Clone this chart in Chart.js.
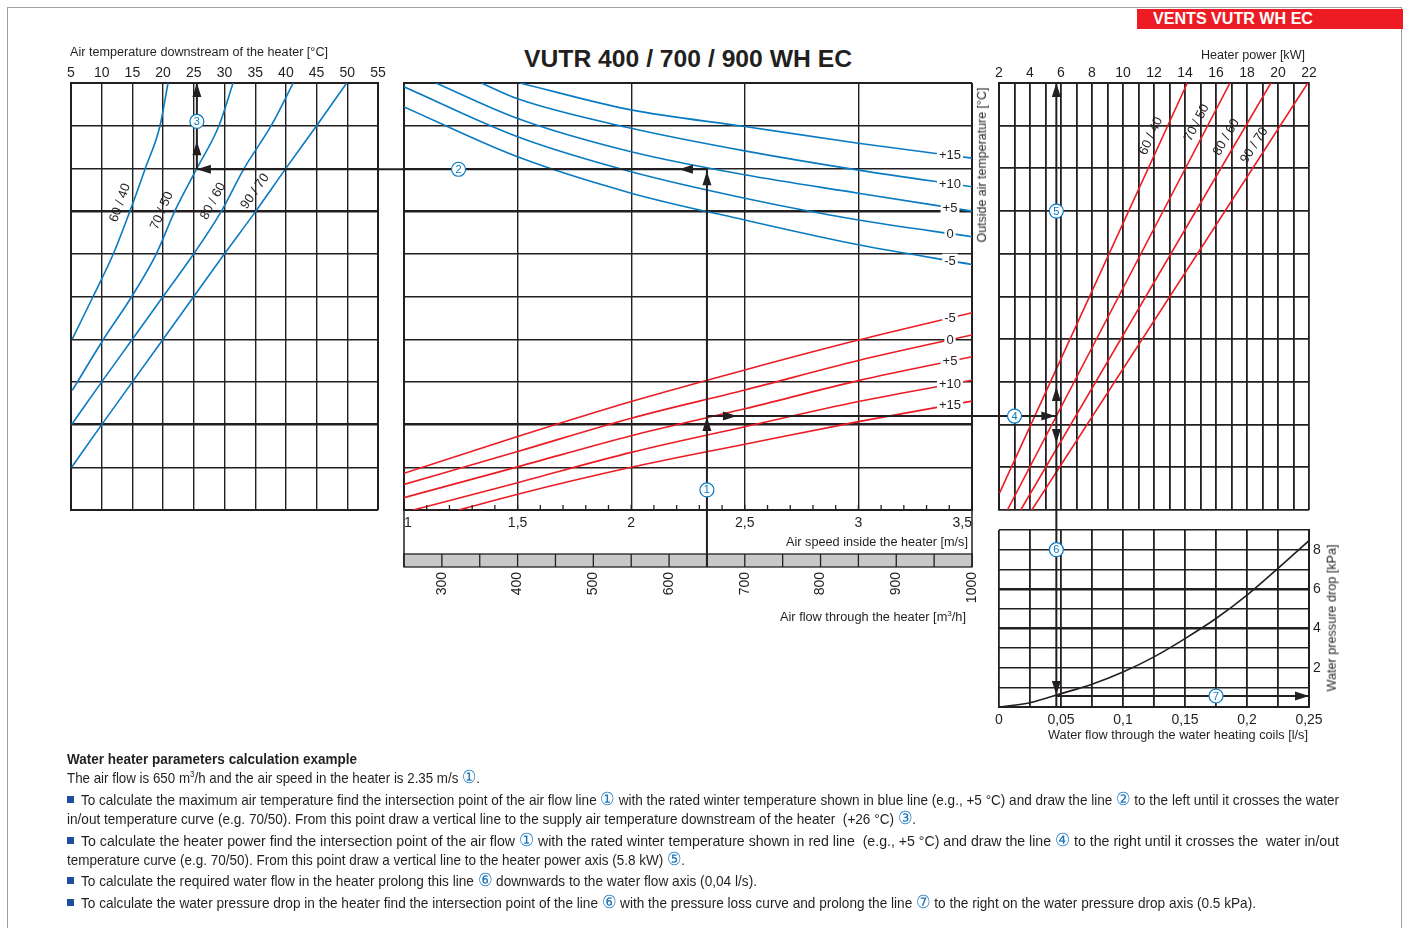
<!DOCTYPE html>
<html>
<head>
<meta charset="utf-8">
<title>VUTR 400 / 700 / 900 WH EC</title>
<script src="https://cdn.jsdelivr.net/npm/chart.js@4.4.1/dist/chart.umd.min.js"></script>
<style>
  body { margin: 0; background: #fff; }
  #page { position: relative; width: 1407px; height: 928px; overflow: hidden; font-family: "Liberation Sans", Arial, sans-serif; color: #231f20; }
  #page canvas { position: absolute; left: 0; top: 0; }
  #frame { position: absolute; left: 7px; top: 7px; width: 1393px; height: 940px; border: 1px solid #a0a0a0; }
  #tag { position: absolute; left: 1137px; top: 9px; width: 266px; height: 20px; background: #ed1c24; }
  .t { position: absolute; white-space: nowrap; line-height: 16px; transform-origin: 0 50%; }
  .ln { position: absolute; white-space: nowrap; font-family: "Liberation Sans Narrow", "Liberation Sans", Arial, sans-serif; font-size: 15px; line-height: 18px; transform-origin: 0 50%; }
  .ln sup { font-size: 9px; line-height: 0; }
  .c { color: #1b75bc; font-size: 18px; line-height: 0; }
  .sq { position: absolute; left: 67px; width: 7px; height: 7px; background: #1f4e9c; }
</style>
</head>
<body>
<div id="page">
  <div id="frame"></div>
  <div id="tag"></div>
  <div class="t fit" data-w="160" style="left:1153px;top:11px;color:#fff;font-weight:bold;font-size:16px;">VENTS VUTR WH EC</div>
  <div class="t fit" data-w="328" style="left:524px;top:47px;font-weight:bold;font-size:24px;line-height:24px;">VUTR 400 / 700 / 900 WH EC</div>

  <canvas id="cLeft" width="1407" height="928"></canvas>
  <canvas id="cMid" width="1407" height="928"></canvas>
  <canvas id="cPower" width="1407" height="928"></canvas>
  <canvas id="cDrop" width="1407" height="928"></canvas>

  <div class="t fit" data-w="258" style="left:70px;top:44px;font-size:12.5px;">Air temperature downstream of the heater [°C]</div>
  <div class="t fit" data-w="104" style="left:1201px;top:47px;font-size:12.5px;">Heater power [kW]</div>
  <div class="t fit" data-w="182" style="left:786px;top:534px;font-size:12.5px;">Air speed inside the heater [m/s]</div>
  <div class="t fit" data-w="186" style="left:780px;top:609px;font-size:12.5px;">Air flow through the heater [m<sup style="font-size:8px;line-height:0">3</sup>/h]</div>
  <div class="t fit" data-w="260" style="left:1048px;top:727px;font-size:12.5px;">Water flow through the water heating coils [l/s]</div>
  <div class="t rot" data-w="155" data-cx="982" data-cy="165" style="font-size:12.5px;background:#fff;">Outside air temperature [°C]</div>
  <div class="t rot" data-w="147" data-cx="1332" data-cy="618" style="font-size:12.5px;">Water pressure drop [kPa]</div>

  <div class="ln fit" data-w="290" style="left:67px;top:750px;font-weight:bold;">Water heater parameters calculation example</div>
  <div class="ln fit" data-w="413" style="left:67px;top:769px;">The air flow is 650 m<sup>3</sup>/h and the air speed in the heater is 2.35 m/s <span class="c">①</span>.</div>
  <div class="sq" style="top:796px;"></div>
  <div class="ln fit" data-w="1258" style="left:81px;top:791px;">To calculate the maximum air temperature find the intersection point of the air flow line <span class="c">①</span> with the rated winter temperature shown in blue line (e.g., +5 °C) and draw the line <span class="c">②</span> to the left until it crosses the water</div>
  <div class="ln fit" data-w="849" style="left:67px;top:810px;">in/out temperature curve (e.g. 70/50). From this point draw a vertical line to the supply air temperature downstream of the heater&nbsp; (+26 °C) <span class="c">③</span>.</div>
  <div class="sq" style="top:837px;"></div>
  <div class="ln fit" data-w="1258" style="left:81px;top:832px;">To calculate the heater power find the intersection point of the air flow <span class="c">①</span> with the rated winter temperature shown in red line&nbsp; (e.g., +5 °C) and draw the line <span class="c">④</span> to the right until it crosses the&nbsp; water in/out</div>
  <div class="ln fit" data-w="618" style="left:67px;top:851px;">temperature curve (e.g. 70/50). From this point draw a vertical line to the heater power axis (5.8 kW) <span class="c">⑤</span>.</div>
  <div class="sq" style="top:877px;"></div>
  <div class="ln fit" data-w="676" style="left:81px;top:872px;">To calculate the required water flow in the heater prolong this line <span class="c">⑥</span> downwards to the water flow axis (0,04 l/s).</div>
  <div class="sq" style="top:899px;"></div>
  <div class="ln fit" data-w="1175" style="left:81px;top:894px;">To calculate the water pressure drop in the heater find the intersection point of the line <span class="c">⑥</span> with the pressure loss curve and prolong the line <span class="c">⑦</span> to the right on the water pressure drop axis (0.5 kPa).</div>
</div>

<script>
// ---- left panel: air temperature downstream of the heater ----
const tempTicks = [5, 10, 15, 20, 25, 30, 35, 40, 45, 50, 55];
const levelTicks = [0, 1, 2, 3, 4, 5, 6, 7, 8, 9, 10];
const waterCurves = ['60 / 40', '70 / 50', '80 / 60', '90 / 70'];

const t6040 = [20.8, 19.5, 17.1, 14.6, 11.9, 8.6, 5.2];
const l6040 = [10, 9, 8, 7, 6, 5, 4];
const t7050 = [31.4, 29.1, 25.5, 21.9, 18.9, 14.9, 10.3, 5.2];
const l7050 = [10, 9, 8, 7, 6, 5, 4, 2.8];
const t8060 = [41.2, 37.6, 33.2, 29.5, 25.0, 20.0, 15.0, 10.0, 5.1];
const l8060 = [10, 9, 8, 7, 6, 5, 4, 3, 2];
const t9070 = [49.9, 45.0, 40.0, 35.1, 30.0, 25.0, 20.0, 15.0, 10.0, 5.1];
const l9070 = [10, 9, 8, 7, 6, 5, 4, 3, 2, 1];

// ---- middle panel: air speed / air flow ----
const speedTicks = [1, 1.5, 2, 2.5, 3, 3.5];
const airflowTicks = [300, 400, 500, 600, 700, 800, 900, 1000];
const airflowCells = [250, 300, 350, 400, 450, 500, 550, 600, 650, 700, 750, 800, 850, 900, 950, 1000];
const outsideTemps = ['+15', '+10', '+5', '0', '-5'];

// blue: outside air temperature curves
const sBlueP15 = [1.51, 2, 2.5, 3, 3.5];
const lBlueP15 = [10, 9.37, 8.98, 8.59, 8.24];
const sBlueP10 = [1.34, 1.5, 2, 2.5, 3, 3.5];
const lBlueP10 = [10, 9.63, 8.94, 8.41, 7.96, 7.57];
const sBlueP5 = [1.14, 1.5, 2, 2.5, 3, 3.5];
const lBlueP5 = [10, 9.17, 8.39, 7.85, 7.42, 7.0];
const sBlue0 = [1, 1.5, 2, 2.5, 3, 3.5];
const lBlue0 = [9.91, 8.74, 7.92, 7.30, 6.79, 6.40];
const sBlueM5 = [1, 1.5, 2, 2.5, 3, 3.5];
const lBlueM5 = [9.44, 8.27, 7.42, 6.79, 6.21, 5.75];

// red: outside air temperature lines for heater power
const sRedM5 = [1, 1.5, 2, 2.5, 3, 3.5];
const lRedM5 = [0.86, 1.72, 2.54, 3.28, 3.98, 4.62];
const sRed0 = [1, 1.5, 2, 2.5, 3, 3.5];
const lRed0 = [0.60, 1.37, 2.15, 2.81, 3.50, 4.10];
const sRedP5 = [1, 1.5, 2, 2.5, 3, 3.5];
const lRedP5 = [0.29, 1.01, 1.74, 2.37, 3.03, 3.59];
const sRedP10 = [1.04, 1.5, 2, 2.5, 3, 3.5];
const lRedP10 = [0, 0.64, 1.35, 1.95, 2.54, 3.04];
const sRedP15 = [1.24, 1.5, 2, 2.5, 3, 3.5];
const lRedP15 = [0, 0.37, 1.00, 1.54, 2.07, 2.55];

// ---- right top panel: heater power [kW] ----
const powerTicks = [2, 3, 4, 5, 6, 7, 8, 9, 10, 11, 12, 13, 14, 15, 16, 17, 18, 19, 20, 21, 22];
const kw6040 = [2.04, 14.15];
const lv6040 = [0.4, 10];
const kw7050 = [2.54, 16.9];
const lv7050 = [0, 10];
const kw8060 = [3.4, 19.54];
const lv8060 = [0, 10];
const kw9070 = [4.12, 21.92];
const lv9070 = [0, 10];

// ---- right bottom panel: water pressure drop ----
const flowTicks = [0, 0.025, 0.05, 0.075, 0.1, 0.125, 0.15, 0.175, 0.2, 0.225, 0.25];
const dropTicks = [0, 1, 2, 3, 4, 5, 6, 7, 8, 9];
const flowValues = [0, 0.025, 0.05, 0.075, 0.1, 0.125, 0.15, 0.175, 0.2, 0.225, 0.25];
const dropValues = [0, 0.22, 0.68, 1.16, 1.78, 2.55, 3.48, 4.50, 5.69, 7.05, 8.46];

// ---- worked example (guide lines 1..7) ----
const exampleAirflow = 650;
const exampleBlueLevel = 7.98;
const exampleRedLevel = 2.2;
const exampleOutletTemp = 25.5;
const examplePower = 5.7;
const exampleDrop = 0.56;

const INK = '#231f20';
const BLUE = '#0a7bc2';
const RED = '#ec1c24';
const FONT = '"Liberation Sans", Arial, sans-serif';

Chart.defaults.font.family = FONT;
Chart.defaults.color = INK;

function pts(xs, ys) {
    return xs.map((x, i) => ({ x: x, y: ys[i] }));
}

function curve(xs, ys, color, smooth) {
    return {
        data: pts(xs, ys),
        borderColor: color,
        borderWidth: 1.6,
        showLine: true,
        pointRadius: 0,
        cubicInterpolationMode: smooth ? 'monotone' : 'default',
        tension: 0
    };
}

function gridLines(thick, edges) {
    return {
        color: INK,
        drawTicks: false,
        lineWidth: c => {
            const v = c.tick ? c.tick.value : null;
            if (thick.includes(v)) return 2.6;
            if (edges.includes(v)) return 2;
            return 1.4;
        }
    };
}

function fixedTicks(list) {
    return axis => { axis.ticks = list.map(v => ({ value: v })); };
}

const baseOptions = {
    responsive: false,
    animation: false,
    devicePixelRatio: 1,
    events: [],
    plugins: { legend: { display: false }, tooltip: { enabled: false } }
};

// label drawn along a curve, rotated to its slope
function labelAlong(chart, xs, ys, level, text, gap) {
    const ctx = chart.ctx, sx = chart.scales.x, sy = chart.scales.y;
    let i = 0;
    while (i < ys.length - 2 && (ys[i] - level) * (ys[i + 1] - level) > 0) i++;
    const t = (level - ys[i]) / (ys[i + 1] - ys[i]);
    const x0 = sx.getPixelForValue(xs[i]), y0 = sy.getPixelForValue(ys[i]);
    const x1 = sx.getPixelForValue(xs[i + 1]), y1 = sy.getPixelForValue(ys[i + 1]);
    let ang = Math.atan2(y1 - y0, x1 - x0);
    if (Math.cos(ang) < 0) ang += Math.PI;
    ctx.save();
    ctx.translate(x0 + (x1 - x0) * t, y0 + (y1 - y0) * t);
    ctx.rotate(ang);
    ctx.font = '13px ' + FONT;
    ctx.fillStyle = INK;
    ctx.textAlign = 'center';
    ctx.textBaseline = 'middle';
    ctx.fillText(text, 0, -gap);
    ctx.restore();
}

// label sitting on the right end of a curve, on a white patch
function labelAtEnd(chart, xs, ys, text) {
    const ctx = chart.ctx, sx = chart.scales.x, sy = chart.scales.y;
    const n = xs.length;
    const x0 = sx.getPixelForValue(xs[n - 2]), y0 = sy.getPixelForValue(ys[n - 2]);
    const x1 = sx.getPixelForValue(xs[n - 1]), y1 = sy.getPixelForValue(ys[n - 1]);
    const px = chart.chartArea.right - 22;
    const py = y0 + (y1 - y0) * (px - x0) / (x1 - x0);
    ctx.save();
    ctx.font = '13px ' + FONT;
    const w = ctx.measureText(text).width + 4;
    ctx.fillStyle = '#fff';
    ctx.fillRect(px - w / 2, py - 7, w, 14);
    ctx.fillStyle = INK;
    ctx.textAlign = 'center';
    ctx.textBaseline = 'middle';
    ctx.fillText(text, px, py + 0.5);
    ctx.restore();
}

// ---------------- left chart ----------------
const leftSeries = [[t6040, l6040], [t7050, l7050], [t8060, l8060], [t9070, l9070]];
const leftLabelLevels = [7.1, 6.9, 7.1, 7.3];

const leftChart = new Chart(document.getElementById('cLeft'), {
    type: 'scatter',
    data: { datasets: leftSeries.map(s => curve(s[0], s[1], BLUE, true)) },
    options: Object.assign({}, baseOptions, {
        layout: { padding: { left: 71, top: 63, right: 1029, bottom: 418 } },
        scales: {
            x: {
                type: 'linear', position: 'top', min: 5, max: 55,
                afterBuildTicks: fixedTicks(tempTicks),
                ticks: { autoSkip: false, maxRotation: 0, padding: 1, font: { size: 14 } },
                grid: gridLines([], [5, 55]),
                border: { color: INK, width: 2 },
                afterFit: s => { s.height = 20; }
            },
            y: {
                min: 0, max: 10,
                afterBuildTicks: fixedTicks(levelTicks),
                ticks: { display: false },
                grid: gridLines([2, 7], [0, 10]),
                border: { color: INK, width: 2 },
                afterFit: s => { s.width = 0; }
            }
        }
    }),
    plugins: [{
        id: 'leftLabels',
        afterDatasetsDraw(chart) {
            leftSeries.forEach((s, i) => labelAlong(chart, s[0], s[1], leftLabelLevels[i], waterCurves[i], 12));
        }
    }]
});

// ---------------- middle chart ----------------
const blueSeries = [[sBlueP15, lBlueP15], [sBlueP10, lBlueP10], [sBlueP5, lBlueP5], [sBlue0, lBlue0], [sBlueM5, lBlueM5]];
const redSeries = [[sRedP15, lRedP15], [sRedP10, lRedP10], [sRedP5, lRedP5], [sRed0, lRed0], [sRedM5, lRedM5]];

const midChart = new Chart(document.getElementById('cMid'), {
    type: 'scatter',
    data: {
        datasets: blueSeries.map(s => curve(s[0], s[1], BLUE, true))
            .concat(redSeries.map(s => curve(s[0], s[1], RED, true)))
    },
    options: Object.assign({}, baseOptions, {
        layout: { padding: { left: 404, top: 83, right: 435, bottom: 316 } },
        scales: {
            x: {
                type: 'linear', position: 'bottom', min: 1, max: 3.5, weight: 0,
                afterBuildTicks: fixedTicks(speedTicks),
                ticks: {
                    autoSkip: false, maxRotation: 0, align: 'inner', padding: 5, font: { size: 14 },
                    callback: v => String(v).replace('.', ',')
                },
                grid: gridLines([], [1, 3.5]),
                border: { color: INK, width: 2 },
                afterFit: s => { s.height = 57; }
            },
            x2: {
                type: 'linear', position: 'bottom', min: 250, max: 1000, weight: 1,
                afterBuildTicks: fixedTicks(airflowTicks),
                ticks: {
                    autoSkip: false, minRotation: 90, maxRotation: 90, padding: -3, font: { size: 14 },
                    callback: v => String(v)
                },
                grid: { display: false },
                border: { display: false },
                afterFit: s => { s.height = 45; }
            },
            y: {
                min: 0, max: 10,
                afterBuildTicks: fixedTicks(levelTicks),
                ticks: { display: false },
                grid: gridLines([2, 7], [0, 10]),
                border: { color: INK, width: 2 },
                afterFit: s => { s.width = 0; }
            }
        }
    }),
    plugins: [{
        id: 'midExtras',
        afterDatasetsDraw(chart) {
            const ctx = chart.ctx, a = chart.chartArea, sx = chart.scales.x, sq = chart.scales.x2;
            const boxBottom = sx.bottom;
            ctx.save();
            // small speed ticks every 0.1 m/s
            ctx.strokeStyle = INK;
            ctx.lineWidth = 1.3;
            for (let i = 0; i <= 25; i++) {
                const px = sx.getPixelForValue(1 + i / 10);
                ctx.beginPath();
                ctx.moveTo(px, a.bottom);
                ctx.lineTo(px, a.bottom - 5);
                ctx.stroke();
            }
            // label box and the grey air-flow strip
            ctx.lineWidth = 1.5;
            ctx.beginPath();
            ctx.moveTo(a.left, a.bottom); ctx.lineTo(a.left, boxBottom);
            ctx.moveTo(a.right, a.bottom); ctx.lineTo(a.right, boxBottom);
            ctx.stroke();
            const stripTop = boxBottom - 13;
            ctx.fillStyle = '#c8c8c8';
            ctx.fillRect(a.left, stripTop, a.right - a.left, boxBottom - stripTop);
            ctx.strokeStyle = INK;
            ctx.lineWidth = 1.3;
            ctx.strokeRect(a.left, stripTop, a.right - a.left, boxBottom - stripTop);
            airflowCells.forEach(v => {
                const px = sq.getPixelForValue(v);
                ctx.beginPath();
                ctx.moveTo(px, stripTop);
                ctx.lineTo(px, boxBottom);
                ctx.stroke();
            });
            ctx.restore();
            blueSeries.forEach((s, i) => labelAtEnd(chart, s[0], s[1], outsideTemps[i]));
            redSeries.forEach((s, i) => labelAtEnd(chart, s[0], s[1], outsideTemps[i]));
        }
    }]
});

// ---------------- heater power chart ----------------
const powerSeries = [[kw6040, lv6040], [kw7050, lv7050], [kw8060, lv8060], [kw9070, lv9070]];
const powerLabelLevels = [8.65, 8.95, 8.6, 8.4];

const powerChart = new Chart(document.getElementById('cPower'), {
    type: 'scatter',
    data: { datasets: powerSeries.map(s => curve(s[0], s[1], RED, false)) },
    options: Object.assign({}, baseOptions, {
        layout: { padding: { left: 999, top: 63, right: 98, bottom: 418 } },
        scales: {
            x: {
                type: 'linear', position: 'top', min: 2, max: 22,
                afterBuildTicks: fixedTicks(powerTicks),
                ticks: {
                    autoSkip: false, maxRotation: 0, padding: 1, font: { size: 14 },
                    callback: v => (v % 2 === 0 ? String(v) : '')
                },
                grid: { color: INK, drawTicks: false, lineWidth: 1.8 },
                border: { color: INK, width: 2 },
                afterFit: s => { s.height = 20; }
            },
            y: {
                min: 0, max: 10,
                afterBuildTicks: fixedTicks(levelTicks),
                ticks: { display: false },
                grid: { color: INK, drawTicks: false, lineWidth: 1.8 },
                border: { color: INK, width: 2 },
                afterFit: s => { s.width = 0; }
            }
        }
    }),
    plugins: [{
        id: 'powerLabels',
        afterDatasetsDraw(chart) {
            powerSeries.forEach((s, i) => labelAlong(chart, s[0], s[1], powerLabelLevels[i], waterCurves[i], 11));
        }
    }]
});

// ---------------- pressure drop chart (top layer, also carries the guides) ----------------
function arrow(ctx, x, y, dir) {
    const L = 14, H = 4.5;
    ctx.beginPath();
    ctx.moveTo(x, y);
    if (dir === 'up') { ctx.lineTo(x - H, y + L); ctx.lineTo(x + H, y + L); }
    if (dir === 'down') { ctx.lineTo(x - H, y - L); ctx.lineTo(x + H, y - L); }
    if (dir === 'left') { ctx.lineTo(x + L, y - H); ctx.lineTo(x + L, y + H); }
    if (dir === 'right') { ctx.lineTo(x - L, y - H); ctx.lineTo(x - L, y + H); }
    ctx.closePath();
    ctx.fill();
}

function badge(ctx, x, y, n) {
    ctx.save();
    ctx.beginPath();
    ctx.arc(x, y, 7, 0, Math.PI * 2);
    ctx.fillStyle = '#fff';
    ctx.fill();
    ctx.lineWidth = 1.2;
    ctx.strokeStyle = BLUE;
    ctx.stroke();
    ctx.fillStyle = BLUE;
    ctx.font = '11px ' + FONT;
    ctx.textAlign = 'center';
    ctx.textBaseline = 'middle';
    ctx.fillText(String(n), x, y + 0.5);
    ctx.restore();
}

const guides = {
    id: 'guides',
    afterDraw(chart) {
        const ctx = chart.ctx;
        const m = midChart.scales, l = leftChart.scales, p = powerChart.scales, d = chart.scales;
        const xA = m.x2.getPixelForValue(exampleAirflow);
        const yB = m.y.getPixelForValue(exampleBlueLevel);
        const yR = m.y.getPixelForValue(exampleRedLevel);
        const xT = l.x.getPixelForValue(exampleOutletTemp);
        const yTop = leftChart.chartArea.top;
        const xP = p.x.getPixelForValue(examplePower);
        const yD = d.y.getPixelForValue(exampleDrop);
        const yBottom = chart.chartArea.bottom;
        const xEnd = chart.chartArea.right;
        const stripBottom = m.x.bottom;

        ctx.save();
        ctx.strokeStyle = INK;
        ctx.fillStyle = INK;
        ctx.lineWidth = 2;
        ctx.beginPath();
        ctx.moveTo(xA, stripBottom); ctx.lineTo(xA, yB);       // 1
        ctx.lineTo(xT, yB);                                     // 2
        ctx.moveTo(xT, yB); ctx.lineTo(xT, yTop);               // 3
        ctx.moveTo(xA, yR); ctx.lineTo(xP, yR);                 // 4
        ctx.moveTo(xP, yTop); ctx.lineTo(xP, yBottom);          // 5, 6
        ctx.moveTo(xP, yD); ctx.lineTo(xEnd, yD);               // 7
        ctx.stroke();

        arrow(ctx, xA, yR + 1, 'up');
        arrow(ctx, xA, yB + 2, 'up');
        arrow(ctx, xA - 28, yB, 'left');
        arrow(ctx, xT, yB, 'left');
        arrow(ctx, xT, yB - 28, 'up');
        arrow(ctx, xT, yTop, 'up');
        arrow(ctx, xA + 30, yR, 'right');
        arrow(ctx, xP - 1, yR, 'right');
        arrow(ctx, xP, yR - 29, 'up');
        arrow(ctx, xP, yTop, 'up');
        arrow(ctx, xP, yR + 27, 'down');
        arrow(ctx, xP, yD - 1, 'down');
        arrow(ctx, xEnd, yD, 'right');
        ctx.restore();

        badge(ctx, xA, m.y.getPixelForValue(0.47), 1);
        badge(ctx, m.x.getPixelForValue(1.24), yB, 2);
        badge(ctx, xT, l.y.getPixelForValue(9.1), 3);
        badge(ctx, p.x.getPixelForValue(3.0), yR, 4);
        badge(ctx, xP, p.y.getPixelForValue(7.0), 5);
        badge(ctx, xP, d.y.getPixelForValue(8.0), 6);
        badge(ctx, d.x.getPixelForValue(0.175), yD, 7);
    }
};

const dropChart = new Chart(document.getElementById('cDrop'), {
    type: 'scatter',
    data: { datasets: [curve(flowValues, dropValues, INK, true)] },
    options: Object.assign({}, baseOptions, {
        layout: { padding: { left: 999, top: 530, right: 78, bottom: 201 } },
        scales: {
            x: {
                type: 'linear', position: 'bottom', min: 0, max: 0.25,
                afterBuildTicks: fixedTicks(flowTicks),
                ticks: {
                    autoSkip: false, maxRotation: 0, padding: 5, font: { size: 14 },
                    callback: (v, i) => (i % 2 === 0 ? String(v).replace('.', ',') : '')
                },
                grid: { color: INK, drawTicks: false, lineWidth: 1.8 },
                border: { color: INK, width: 2 },
                afterFit: s => { s.height = 20; }
            },
            y: {
                position: 'right', min: 0, max: 9,
                afterBuildTicks: fixedTicks(dropTicks),
                ticks: {
                    autoSkip: false, padding: 4, font: { size: 14 },
                    callback: v => (v > 0 && v % 2 === 0 ? String(v) : '')
                },
                grid: { color: INK, drawTicks: false, lineWidth: c => (c.tick && (c.tick.value === 4 || c.tick.value === 6) ? 2.4 : 1.6) },
                border: { color: INK, width: 2 },
                afterFit: s => { s.width = 20; }
            }
        }
    }),
    plugins: [guides]
});

// squeeze the html texts to the widths they have in the sheet
document.querySelectorAll('.fit').forEach(el => {
    const k = +el.dataset.w / el.getBoundingClientRect().width;
    el.style.transform = 'scaleX(' + k + ')';
});
document.querySelectorAll('.rot').forEach(el => {
    const r = el.getBoundingClientRect();
    const k = +el.dataset.w / r.width;
    el.style.left = (+el.dataset.cx - r.width / 2) + 'px';
    el.style.top = (+el.dataset.cy - r.height / 2) + 'px';
    el.style.transformOrigin = '50% 50%';
    el.style.transform = 'rotate(-90deg) scaleX(' + k + ')';
});
</script>
</body>
</html>
